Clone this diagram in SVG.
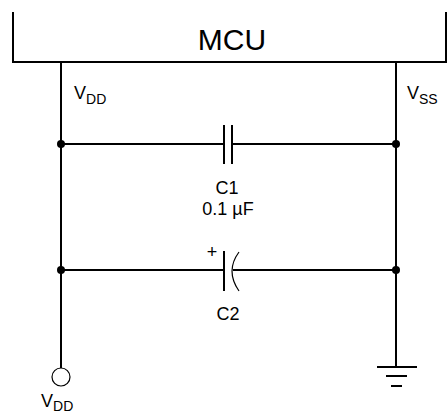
<svg xmlns="http://www.w3.org/2000/svg" width="448" height="416" viewBox="0 0 448 416">
<style>
.w{stroke:#000;stroke-width:2;fill:none}
.t{font-family:"Liberation Sans",Arial,sans-serif;fill:#000}
.l{font-size:18px}
.s{font-size:14px}
.dot{fill:#000}
</style>
<rect width="448" height="416" fill="#fff"/>
<g id="mcu">
<path class="w" d="M13,12 V62 H446 V12"/>
<text class="t" x="232" y="50" font-size="30" text-anchor="middle">MCU</text>
</g>
<g id="labels">
<text class="t l" x="74" y="99">V<tspan class="s" dy="5">DD</tspan></text>
<text class="t l" x="407" y="99">V<tspan class="s" dy="5">SS</tspan></text>
<text class="t l" x="41" y="407">V<tspan class="s" dy="4">DD</tspan></text>
</g>
<g id="connectors">
<path class="w" d="M61,62 V368"/>
<path class="w" d="M396,62 V367"/>
<path class="w" d="M61,144 H224 M232,144 H396"/>
<path class="w" d="M61,270 H224 M233,270 H396"/>
</g>
<g id="C1">
<path class="w" d="M224,125 V164 M232,125 V164"/>
<text class="t l" x="227" y="194" text-anchor="middle">C1</text>
<text class="t l" x="228" y="215" text-anchor="middle">0.1 µF</text>
</g>
<g id="C2">
<path class="w" d="M224,251 V291"/>
<path stroke="#000" stroke-width="1.2" fill="none" d="M239,252 Q225,271 239,291"/>
<text class="t l" x="212" y="258" text-anchor="middle">+</text>
<text class="t l" x="228" y="320" text-anchor="middle">C2</text>
</g>
<g id="junctions">
<circle class="dot" cx="61" cy="144" r="4"/>
<circle class="dot" cx="396" cy="144" r="4"/>
<circle class="dot" cx="61" cy="270" r="4"/>
<circle class="dot" cx="396" cy="270" r="4"/>
</g>
<g id="vdd-terminal">
<circle cx="61" cy="377" r="9" fill="#fff" stroke="#000" stroke-width="1.2"/>
</g>
<g id="ground">
<path class="w" d="M377,367 H417 M386,376 H407 M391,386 H402"/>
</g>
</svg>
